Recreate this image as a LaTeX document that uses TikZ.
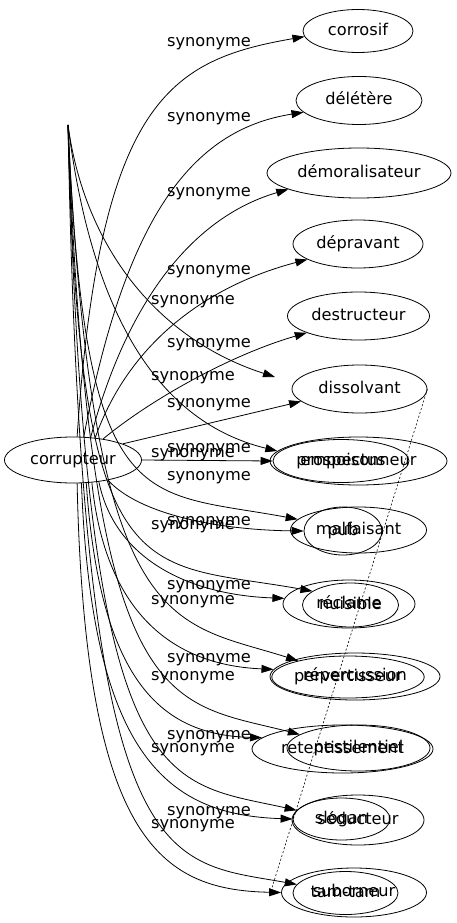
\documentclass[tikz,border=0pt]{standalone}
\usepackage{fontspec}
\setmainfont{DejaVu Sans}
\usetikzlibrary{shapes.geometric}
\usetikzlibrary{arrows.meta}

\begin{document}
\begin{tikzpicture}[x=1pt,y=-1pt,>={Triangle[length=12pt,width=8pt]},
	line width=0.8pt,
	word/.style={ellipse,draw,inner sep=0pt,text height=12pt,text depth=3.5pt,
		font=\fontsize{16.2}{19}\selectfont},
	lbl/.style={inner sep=0pt,font=\fontsize{16.2}{19}\selectfont}]
	
	\useasboundingbox (0,0) rectangle (456,923);
	
	\node[word,minimum width=137pt,minimum height=46pt] (corrupteur) at (73,460) {corrupteur};
	
	\node[word,minimum width=110pt,minimum height=43pt] (corrosif) at (358,31) {corrosif};
	\node[word,minimum width=126pt,minimum height=48pt] (deletere) at (359,100.5) {délétère};
	\node[word,minimum width=184pt,minimum height=50pt] (demoral) at (359,173) {démoralisateur};
	\node[word,minimum width=130pt,minimum height=48pt] (depravant) at (358,244) {dépravant};
	\node[word,minimum width=142pt,minimum height=48pt] (destruct) at (358.5,316) {destructeur};
	\node[word,minimum width=135pt,minimum height=48pt] (dissolvant) at (359.5,389) {dissolvant};
	\node[word,minimum width=177pt,minimum height=48pt] (empois) at (358.5,461) {empoisonneur};
	\node[word,minimum width=136pt,minimum height=43pt] (prosp) at (341,461) {prospectus};
	\node[word,minimum width=136pt,minimum height=46pt] (malf) at (358.5,530) {malfaisant};
	\node[word,minimum width=78pt,minimum height=48pt] (pub) at (343,531) {pub};
	\node[word,minimum width=132pt,minimum height=48pt] (recl) at (349,604) {réclame};
	\node[word,minimum width=96pt,minimum height=44pt] (nuis) at (350.5,605) {nuisible};
	\node[word,minimum width=170pt,minimum height=47pt] (reperc) at (355,676.5) {répercussion};
	\node[word,minimum width=143pt,minimum height=42pt] (perv) at (348,677) {pervertisseur};
	\node[word,minimum width=181pt,minimum height=48pt] (retent) at (342.5,749) {retentissement};
	\node[word,minimum width=143pt,minimum height=46pt] (pest) at (358.5,748) {pestilentiel};
	\node[word,minimum width=132pt,minimum height=50pt] (sed) at (358,820) {séducteur};
	\node[word,minimum width=97pt,minimum height=42pt] (slogan) at (341.5,819) {slogan};
	\node[word,minimum width=145pt,minimum height=49pt] (subor) at (354,892.5) {suborneur};
	\node[word,minimum width=105pt,minimum height=43pt] (tamtam) at (345.5,893) {tam-tam};
	
	\coordinate (apex) at (68,125);
	\coordinate (hang) at (275,377);
	\coordinate (dotend) at (270,894);
	
	% edges from the top of corrupteur
	\draw[->] (corrupteur.80) .. controls (100,100) and (170,60) .. (corrosif.186);
	\draw[->] (corrupteur.65) .. controls (125,220) and (190,130) .. (deletere.192);
	\draw[->] (corrupteur.52) .. controls (130,290) and (200,215) .. (demoral.193);
	\draw[->] (corrupteur.45) .. controls (130,340) and (210,285) .. (depravant.197);
	\draw[->] (corrupteur.35) .. controls (150,400) and (230,355) .. (destruct.198);
	\draw[->] (corrupteur.18) -- (dissolvant.192);
	\draw[->] (corrupteur.east) -- (prosp.west);
	
	% edges from the apex
	\draw[->] (apex) .. controls (85,250) and (160,340) .. (hang);
	\draw[->] (apex) .. controls (90,300) and (150,420) .. (empois.173);
	\draw[->] (apex) .. controls (85,520) and (140,490) .. (malf.170);
	\draw[->] (apex) .. controls (80,600) and (140,560) .. (nuis.160);
	\draw[->] (apex) .. controls (92,640) and (170,620) .. (perv.162);
	\draw[->] (apex) .. controls (90,720) and (165,700) .. (pest.167);
	\draw[->] (apex) .. controls (86,800) and (160,780) .. (sed.171);
	\draw[->] (apex) .. controls (82,880) and (160,860) .. (tamtam.170);
	
	% edges from the bottom of corrupteur
	\draw[->] (corrupteur.-30) .. controls (140,515) and (220,530) .. (pub.180);
	\draw[->] (corrupteur.-40) .. controls (115,560) and (190,595) .. (recl.175);
	\draw[->] (corrupteur.-50) .. controls (105,610) and (170,665) .. (reperc.175);
	\draw[->] (corrupteur.-60) .. controls (100,680) and (160,735) .. (retent.172);
	\draw[->] (corrupteur.-70) .. controls (92,760) and (170,815) .. (slogan.180);
	\draw[->] (corrupteur.-80) .. controls (85,840) and (160,890) .. (subor.180);
	
	\draw[dash pattern=on 2pt off 2pt,line width=0.6pt] (dissolvant.east) -- (dotend);
	
	\foreach \y [count=\i] in {44,119,194,272,345,405,450,478,523,587,660,737,813}
		\node[lbl] (sa\i) at (209,\y) {synonyme};
	\foreach \y [count=\i] in {302,378,455,527,602,678,750,826}
		\node[lbl] (sb\i) at (193,\y) {synonyme};
	
\end{tikzpicture}
\end{document}
